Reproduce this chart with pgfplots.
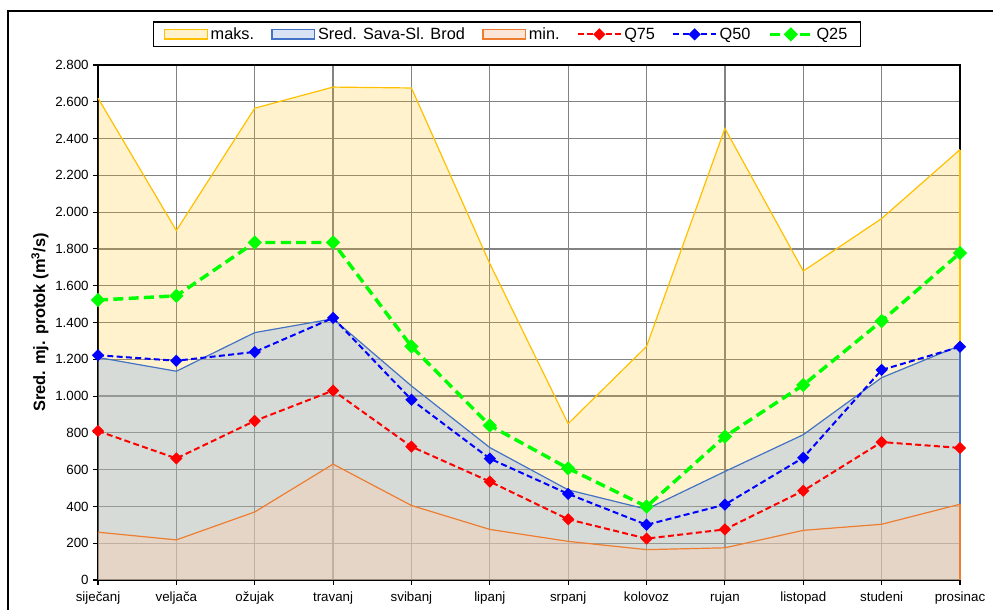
\documentclass[border=0pt]{standalone}
\usepackage{fontspec}
\setmainfont{Liberation Sans}
\usepackage{pgfplots}
\usepackage{pgfplotstable}
\pgfplotsset{compat=1.18}

\definecolor{maxline}{RGB}{255,192,0}
\definecolor{maxleg}{RGB}{255,242,204}
\definecolor{sredline}{RGB}{68,114,196}
\definecolor{sredfill}{RGB}{138,176,238}
\definecolor{sredleg}{RGB}{218,227,243}
\definecolor{minline}{RGB}{237,125,49}
\definecolor{minfill}{RGB}{247,206,178}
\definecolor{minleg}{RGB}{251,229,214}
\definecolor{gridgray}{RGB}{130,130,130}
\definecolor{qgreen}{RGB}{0,255,0}

% mjesecni protoci, Sava - Sl. Brod
\pgfplotstableread{
x maks sred min q75 q50 q25
0 2620 1210 260 810 1222 1522
1 1900 1135 218 661 1192 1545
2 2565 1345 370 865 1240 1835
3 2680 1420 630 1030 1425 1835
4 2675 1055 405 725 980 1270
5 1720 720 275 535 660 840
6 850 490 210 330 468 607
7 1270 385 165 225 300 399
8 2455 590 175 275 410 780
9 1680 790 270 485 665 1060
10 1965 1100 303 750 1142 1408
11 2340 1275 412 718 1268 1778
}\data

\pgfplotsset{
  arealeg/.style 2 args={legend image code/.code={
    \draw[fill=#1, draw=#2, line width=1pt] (0pt,-3.4pt) rectangle (32pt,3.4pt);}},
  lineleg/.style={legend image code/.code={
    \draw[mark repeat=2, mark phase=2, ##1] plot coordinates {(0pt,0pt) (16pt,0pt) (32pt,0pt)};}},
  qmark/.style={mark=square*, mark size=2.5pt, mark options={solid, rotate=45, fill=#1, draw=#1}},
}

\begin{document}
\begin{tikzpicture}
\useasboundingbox (0,0) rectangle (744.75pt,457.5pt);
\draw[black, line width=1pt] (6pt,-5pt) -- (6pt,449.25pt) -- (760pt,449.25pt);
\begin{axis}[
  at={(73.5pt,22.5pt)}, anchor=south west,
  scale only axis, width=646.5pt, height=386.25pt,
  xmin=0, xmax=11, ymin=0, ymax=2800,
  xtick={0,...,11},
  xticklabels={siječanj,veljača,ožujak,travanj,svibanj,lipanj,srpanj,kolovoz,rujan,listopad,studeni,prosinac},
  ytick distance=200,
  scaled y ticks=false,
  /pgf/number format/1000 sep={.},
  /pgf/number format/assume math mode=true,
  tick label style={font=\fontsize{10}{12}\selectfont, black},
  xticklabel style={yshift=-1.5pt},
  grid=major,
  major grid style={draw=gridgray, line width=0.9pt},
  axis line style={black, line width=1.1pt},
  tick style={black, line width=0.8pt},
  major tick length=3.5pt,
  tick align=outside, tick pos=left,
  clip=false,
  ylabel={Sred. mj. protok (m\textsuperscript{3}/s)},
  ylabel style={font=\bfseries\fontsize{12.3}{14}\selectfont, at={(axis description cs:-0.0673,0.5)}, anchor=center},
  legend columns=6,
  legend cell align=left,
  legend style={at={(axis description cs:0.4745,1.0595)}, anchor=center,
    draw=black, line width=1pt, font=\fontsize{12.2}{14}\selectfont,
    inner xsep=8pt, inner ysep=2pt,
    /tikz/every even column/.append style={column sep=11pt}},
]
% maks.
\addplot[draw=none, fill=maxline, fill opacity=0.2, forget plot] table[x=x, y=maks] {\data} \closedcycle;
\addplot[draw=maxline, line width=0.9pt, arealeg={maxleg}{maxline}] table[x=x, y=maks] {\data};
\addlegendentry{maks.}
\addplot[ycomb, draw=maxline, line width=0.9pt, forget plot, skip coords between index={0}{11}] table[x=x, y=maks] {\data};
% srednji
\addplot[draw=none, fill=sredfill, fill opacity=0.35, forget plot] table[x=x, y=sred] {\data} \closedcycle;
\addplot[draw=sredline, line width=0.9pt, arealeg={sredleg}{sredline}] table[x=x, y=sred] {\data};
\addlegendentry{Sred. Sava-Sl. Brod}
\addplot[ycomb, draw=sredline, line width=0.9pt, forget plot, skip coords between index={0}{11}] table[x=x, y=sred] {\data};
% min.
\addplot[draw=none, fill=minfill, fill opacity=0.45, forget plot] table[x=x, y=min] {\data} \closedcycle;
\addplot[draw=minline, line width=0.9pt, arealeg={minleg}{minline}] table[x=x, y=min] {\data};
\addlegendentry{min.}
\addplot[ycomb, draw=minline, line width=0.9pt, forget plot, skip coords between index={0}{11}] table[x=x, y=min] {\data};
% percentili
\addplot[red, line width=1.5pt, dash pattern=on 4.5pt off 2.5pt, qmark=red, lineleg] table[x=x, y=q75] {\data};
\addlegendentry{Q75}
\addplot[blue, line width=1.5pt, dash pattern=on 4.5pt off 2.5pt, qmark=blue, lineleg] table[x=x, y=q50] {\data};
\addlegendentry{Q50}
\addplot[qgreen, line width=2.6pt, dash pattern=on 7.5pt off 4pt, qmark=qgreen, lineleg] table[x=x, y=q25] {\data};
\addlegendentry{Q25}
\end{axis}
\end{tikzpicture}
\end{document}
